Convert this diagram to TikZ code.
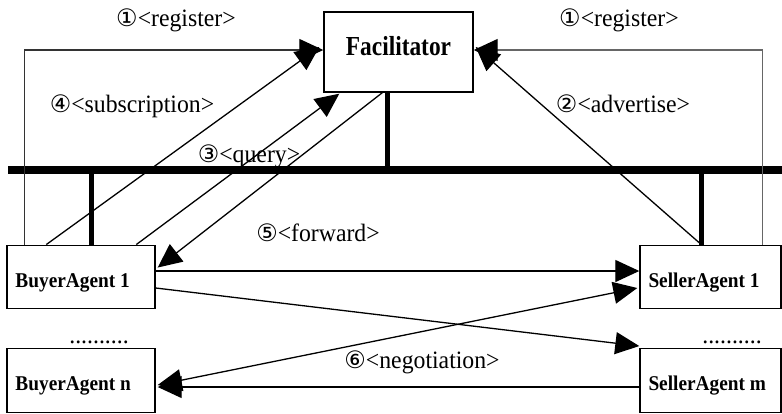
\documentclass[tikz,border=0pt]{standalone}
\usepackage{fontspec}
\setmainfont{Liberation Serif}
\newfontfamily\facfont[FakeStretch=0.85]{Liberation Serif}
\newfontfamily\agentfont[FakeStretch=0.92]{Liberation Serif}
\newfontfamily\labelfont[FakeStretch=0.95]{Liberation Serif}
\newfontfamily\circfont{DejaVu Sans}
\usetikzlibrary{arrows.meta}
\newcommand{\circnum}[1]{{\circfont\fontsize{24}{26}\selectfont #1}}
\begin{document}
\begin{tikzpicture}[x=1pt,y=-1pt,
  boxbase/.style={draw,line width=1.4pt,inner ysep=0pt},
  agent/.style={boxbase,inner xsep=8.5pt,minimum height=63.5pt,
    font=\agentfont\bfseries\fontsize{21}{24}\selectfont},
  lbl/.style={anchor=base,inner sep=0pt,font=\labelfont\fontsize{25}{28}\selectfont},
  dots/.style={anchor=base,inner sep=0pt,font=\labelfont\fontsize{25}{28}\selectfont},
  con/.style={line width=1.3pt,-{Triangle[length=24pt,width=22pt]}},
  dbl/.style={line width=1.3pt,{Triangle[length=24pt,width=22pt]}-{Triangle[length=24pt,width=22pt]}},
  reg/.style={line width=1.2pt,draw=black!80,-{Triangle[length=24pt,width=22pt,color=black]}},
  bus/.style={line width=8pt},
  stub/.style={line width=5pt}]
\useasboundingbox (0,0) rectangle (782,413);

% nodes
\node[boxbase,minimum width=149pt,minimum height=80pt,
  font=\facfont\bfseries\fontsize{27.5}{30}\selectfont] (fac) at (398.5,52)
  {\raisebox{-3pt}[0pt][0pt]{Facilitator}};
\node[agent] (b1) at (81,277)
  {\raisebox{-10pt}[0pt][0pt]{\makebox[131pt][l]{BuyerAgent 1}}};
\node[agent] (bn) at (81,380.5)
  {\raisebox{-10pt}[0pt][0pt]{\makebox[131pt][l]{BuyerAgent n}}};
\node[agent] (s1) at (710.5,277)
  {\raisebox{-10pt}[0pt][0pt]{\makebox[124pt][l]{SellerAgent 1}}};
\node[agent] (sm) at (710.5,380.5)
  {\raisebox{-10pt}[0pt][0pt]{\makebox[124pt][l]{SellerAgent m}}};

% communication bus with its taps
\coordinate (busL) at (8,170);
\coordinate (busR) at (782,170);
\draw[bus] (busL) -- (busR);
\coordinate (facTap) at ([xshift=64pt]fac.south west);
\coordinate (buyTap) at ([xshift=85pt]b1.north west);
\coordinate (selTap) at ([xshift=62.5pt]s1.north west);
\draw[stub] (facTap) -- (facTap |- busL);
\draw[stub] (buyTap) -- (buyTap |- busL);
\draw[stub] (selTap) -- (selTap |- busL);

% register
\draw[reg] ([xshift=18pt]b1.north west) |- ([yshift=2pt]fac.west);
\draw[reg,draw=black!60] ([xshift=123pt]s1.north west) |- ([yshift=2pt]fac.east);
% subscription, query, forward, advertise
\draw[con] ([xshift=40pt]b1.north west) -- ([xshift=-4pt,yshift=5pt]fac.west);
\draw[con] ([xshift=130pt]b1.north west) -- ([xshift=16pt,yshift=-1pt]fac.south west);
\draw[con] ([xshift=59pt]fac.south west) -- ([xshift=2pt,yshift=-23pt]b1.north east);
\draw[con] ([xshift=62pt]s1.north west) -- ([xshift=2pt,yshift=5pt]fac.east);
% negotiation between buyers and sellers
\draw[con] ([yshift=6pt]b1.east) -- ([yshift=6pt]s1.west);
\draw[con] ([yshift=-11pt]b1.east) -- ([yshift=2pt]sm.north west);
\draw[dbl] ([xshift=2pt,yshift=-4.5pt]bn.east) -- ([xshift=-2pt,yshift=-11pt]s1.west);
\draw[con] ([yshift=-6.5pt]sm.west) -- ([xshift=2pt,yshift=-6.5pt]bn.east);

% labels
\node[lbl] (l1a) at (176,26) {\circnum{①}<register>};
\node[lbl] (l1b) at (619,26) {\circnum{①}<register>};
\node[lbl] (l4) at (132,112) {\circnum{④}<subscription>};
\node[lbl] (l3) at (249,162) {\circnum{③}<query>};
\node[lbl] (l2) at (623,112) {\circnum{②}<advertise>};
\node[lbl] (l5) at (318,241) {\circnum{⑤}<forward>};
\node[lbl] (l6) at (422,368) {\circnum{⑥}<negotiation>};
\node[dots] (d1) at (99,343) {..........};
\node[dots] (d2) at (732,343) {..........};
\end{tikzpicture}
\end{document}
